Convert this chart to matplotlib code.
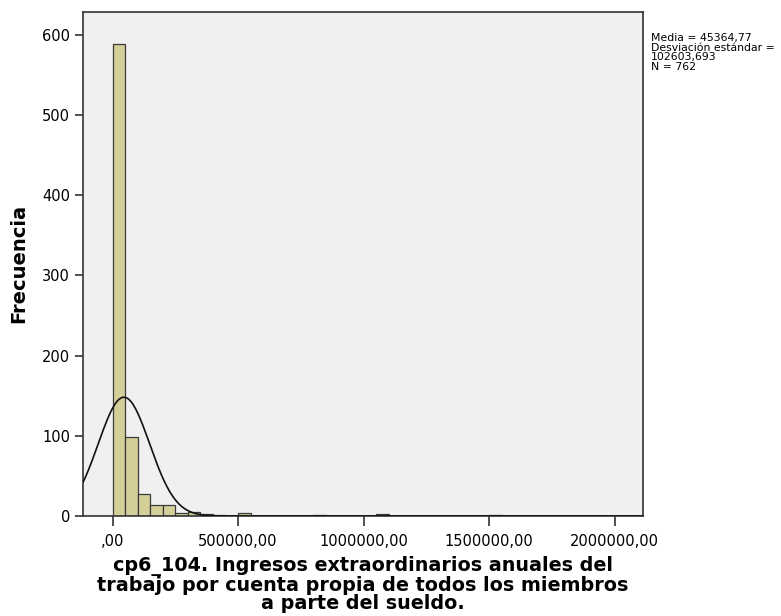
#!/usr/bin/env python3
"""Histogram of cp6_104 with fitted normal curve (SPSS style)."""

import numpy as np
import matplotlib
matplotlib.use("Agg")
import matplotlib.pyplot as plt

# Bin edges every 50000, counts
bin_width = 50000
bin_starts = [0, 50000, 100000, 150000, 200000, 250000, 300000, 350000,
              400000, 500000, 800000, 1050000, 1500000]
counts = [588, 98, 28, 14, 14, 4, 5, 2, 1, 4, 1, 2, 1]

mean = 45364.77
std = 102603.693
n_total = 762

x_ticks = [0, 500000, 1000000, 1500000, 2000000]
x_tick_labels = [",00", "500000,00", "1000000,00", "1500000,00", "2000000,00"]
y_ticks = [0, 100, 200, 300, 400, 500, 600]

xlabel = ("cp6_104. Ingresos extraordinarios anuales del\n"
          "trabajo por cuenta propia de todos los miembros\n"
          "a parte del sueldo.")
stats_text = ("Media = 45364,77\nDesviación estándar =\n102603,693\nN = 762")


def main() -> int:
    fig = plt.figure(figsize=(7.81, 6.16), dpi=100)
    ax = fig.add_axes([0.1067, 0.1623, 0.716, 0.819])
    ax.set_facecolor("#f0f0f0")

    ax.bar(bin_starts, counts, width=bin_width, align="edge",
           color="#d4cf98", edgecolor="#3a3a3a", linewidth=0.9, zorder=2)

    xmin, xmax = -116300, 2111500
    xs = np.linspace(xmin, xmax, 800)
    ys = n_total * bin_width * np.exp(-0.5 * ((xs - mean) / std) ** 2) / (std * np.sqrt(2 * np.pi))
    ax.plot(xs, ys, color="#111111", linewidth=1.2, zorder=3)

    ax.set_xlim(xmin, xmax)
    ax.set_ylim(0, 629)
    ax.set_xticks(x_ticks)
    ax.set_xticklabels(x_tick_labels)
    ax.set_yticks(y_ticks)
    ax.tick_params(axis="both", labelsize=10.5, length=6, width=1.2, color="#333333")
    ax.tick_params(axis="x", length=7, pad=6)
    for sp in ax.spines.values():
        sp.set_color("#333333")
        sp.set_linewidth(1.2)

    ax.set_ylabel("Frecuencia", fontsize=14, fontweight="bold", labelpad=10)
    ax.set_xlabel(xlabel, fontsize=13.8, fontweight="bold",
                  linespacing=0.98, labelpad=5)

    fig.text(651 / 781, 1 - 33 / 616, stats_text, fontsize=7.8, va="top", ha="left",
             linespacing=0.95)

    fig.savefig("out.png", dpi=100)
    plt.close(fig)
    return 0


if __name__ == "__main__":
    raise SystemExit(main())
